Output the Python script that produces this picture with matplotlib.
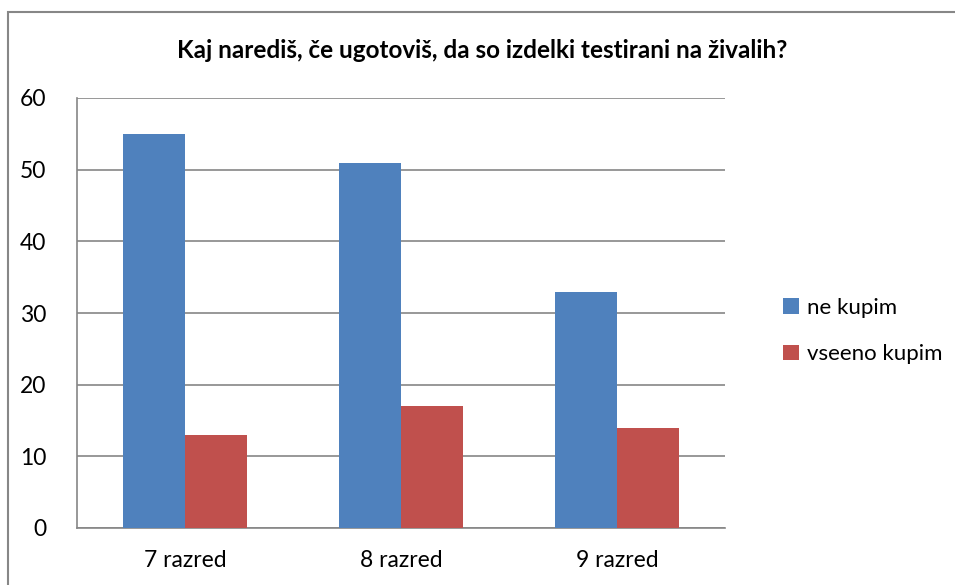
import numpy as np
import matplotlib.pyplot as plt
from matplotlib.patches import Rectangle

plt.rcParams['font.family'] = ['Lato', 'DejaVu Sans']

razredi = ['7 razred', '8 razred', '9 razred']
ne_kupim = [55, 51, 33]
vseeno_kupim = [13, 17, 14]

fig = plt.figure(figsize=(9.55, 5.85), dpi=100)
ax = fig.add_axes([77 / 955, 57 / 585, (725 - 77) / 955, (528 - 98) / 585])

x = np.arange(len(razredi))
w = 0.288
ax.bar(x - w / 2, ne_kupim, w, color='#4f81bd', label='ne kupim', zorder=3)
ax.bar(x + w / 2, vseeno_kupim, w, color='#c0504d', label='vseeno kupim', zorder=3)

ax.set_xlim(-0.5, 2.5)
ax.set_ylim(0, 60)
ax.set_yticks(range(0, 61, 10))
ax.set_xticks(x)
ax.set_xticklabels(razredi)
ax.tick_params(length=0, labelsize=16.5, colors='black')
ax.tick_params(axis='y', pad=22)
ax.tick_params(axis='x', pad=16)
ax.yaxis.grid(True, color='#868686', linewidth=1.2, zorder=0)
for s in ['top', 'right']:
    ax.spines[s].set_visible(False)
for s in ['left', 'bottom']:
    ax.spines[s].set_color('#868686')
    ax.spines[s].set_linewidth(1.2)

fig.text(482 / 955, 1 - 51 / 585, 'Kaj narediš, če ugotoviš, da so izdelki testirani na živalih?',
         ha='center', va='center', fontsize=17.5, fontweight='bold')

fig.legend(loc='center left', bbox_to_anchor=(763 / 955, 1 - 331 / 585), frameon=False,
           fontsize=16, handlelength=0.7, handleheight=0.7, handletextpad=0.4,
           labelspacing=1.2)

fig.patches.append(Rectangle((8 / 955, -0.1), 1.2, 1 - 12 / 585 + 0.1, transform=fig.transFigure,
                             fill=False, edgecolor='#878787', linewidth=1.5, clip_on=False))

fig.savefig('out.png', dpi=100)
